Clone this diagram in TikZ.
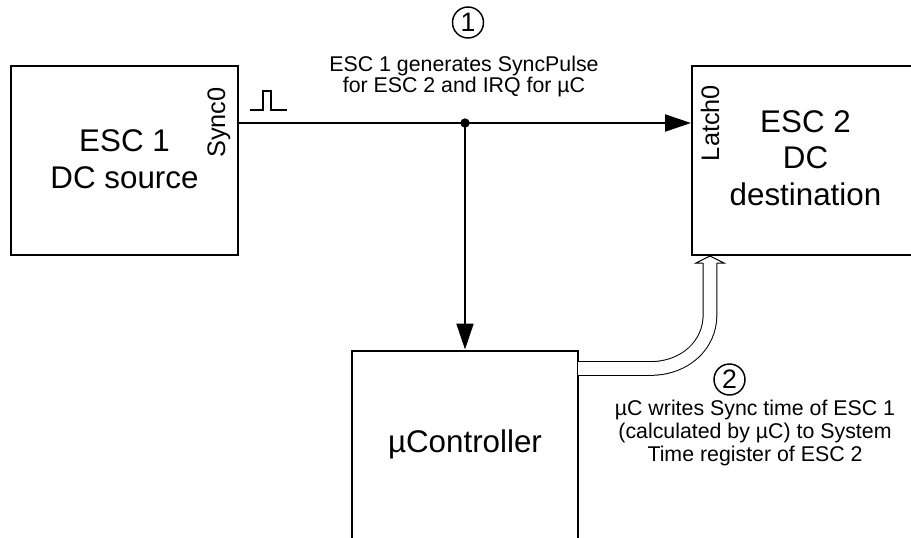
\documentclass[tikz,border=0pt]{standalone}
\usepackage{fontspec}
\setmainfont{Liberation Sans}
\usetikzlibrary{arrows.meta,calc}
\begin{document}
\begin{tikzpicture}[x=0.75pt,y=-0.75pt,
  box/.style={draw, line width=1.5pt, minimum width=170.25pt, minimum height=141.75pt, inner sep=0pt},
  ucbox/.style={draw, line width=1.5pt, minimum width=169.5pt, minimum height=161.25pt, inner sep=0pt},
  big/.style={font=\fontsize{23.5}{27.5}\selectfont, align=center, inner sep=0pt},
  mid/.style={font=\fontsize{19}{19}\selectfont, inner sep=0pt},
  small/.style={font=\fontsize{16}{15.5}\selectfont, align=center, inner sep=0pt},
  smallb/.style={font=\fontsize{16}{17}\selectfont, align=center, inner sep=0pt},
  sig/.style={line width=1.5pt},
  tip/.style={-{Triangle[length=19.5pt,width=12.75pt]}},
  num/.style={circle, draw, line width=1.1pt, minimum size=23.25pt, inner sep=0pt, font=\fontsize{20}{20}\selectfont},
  hollow/.style={line width=0.75pt, double=white, double distance=9.5pt}]
\useasboundingbox (0,0) rectangle (911,537);

% boxes
\node[box] (esc1) at (124.5,160.5) {};
\node[box] (esc2) at (805.5,160.5) {};
\node[ucbox] (uc) at (465,458) {};

% box texts
\node[big] (esc1t) at (124.5,159) {ESC 1\\DC source};
\node[big] (esc2t) at (805.5,158) {ESC 2\\DC\\destination};
\node[big] (uct) at (465,444) {µController};

% port labels
\node[mid, rotate=90, anchor=base] (sync) at (225,122.5) {Sync0};
\node[mid, rotate=90, anchor=base] (latch) at (719,123) {Latch0};

% sync pulse symbol
\coordinate (p0) at (250,110);
\draw[sig] (p0) -- ++(13,0) -- ++(0,-19) -- ++(8,0) -- ++(0,19) -- ++(16,0);

% signal line
\coordinate (j) at (465,123);
\draw[sig, tip] (j -| esc1.east) -- (j -| esc2.west);
\draw[sig, tip] (j) -- (j |- uc.north);
\node[circle, fill, inner sep=0pt, minimum size=7pt] (dot) at (j) {};

% labels
\node[num] (n1) at (468,22.5) {1};
\node[small] (lab1) at (464,76.5) {ESC 1 generates SyncPulse\\for ESC 2 and IRQ for µC};
\node[num] (n2) at (729.5,379.5) {2};
\node[smallb] (lab2) at (755,433) {µC writes Sync time of ESC 1\\(calculated by µC) to System\\Time register of ESC 2};

% hollow double arrow
\coordinate (ds) at (578,368.5);
\coordinate (dc1) at (650,368.5);
\coordinate (dc2) at (710,315);
\coordinate (dh) at (710,263);
\draw[hollow] (ds) -- (dc1) .. controls (685,368.5) and (710,345) .. (dc2) -- (dh);
\draw[line width=0.75pt] (703,263) -- (696,263) -- (esc2.south -| dh) -- (724,263) -- (717,263);
\end{tikzpicture}
\end{document}
